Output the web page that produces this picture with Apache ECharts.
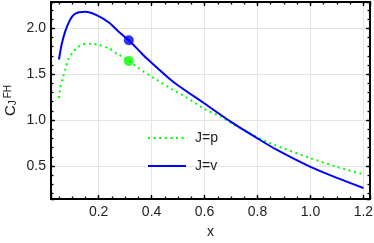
<!DOCTYPE html>
<html>
<head>
<meta charset="utf-8">
<script src="https://cdn.jsdelivr.net/npm/echarts@6/dist/echarts.min.js"></script>
<style>html,body{margin:0;padding:0;background:#fff}#c{width:374px;height:243px}</style>
</head>
<body>
<div id="c"></div>
<script>
// J=v curve
const xV = [0.05, 0.06, 0.073, 0.09, 0.105, 0.125, 0.15, 0.19, 0.24, 0.28, 0.314, 0.356, 0.38, 0.48, 0.6, 0.7, 0.8, 0.87, 1.0, 1.1, 1.2];
const yV = [1.66, 1.82, 1.96, 2.08, 2.145, 2.175, 2.18, 2.145, 2.06, 1.95, 1.869, 1.745, 1.675, 1.42, 1.18, 0.98, 0.80, 0.68, 0.49, 0.37, 0.26];
// J=p curve
const xP = [0.05, 0.055, 0.065, 0.075, 0.085, 0.1, 0.12, 0.14, 0.17, 0.2, 0.24, 0.27, 0.3, 0.35, 0.42, 0.48, 0.53, 0.6, 0.66, 0.7, 0.8, 0.85, 0.9, 1.0, 1.1, 1.2];
const yP = [1.24, 1.35, 1.46, 1.56, 1.66, 1.73, 1.79, 1.825, 1.83, 1.82, 1.78, 1.72, 1.675, 1.565, 1.437, 1.33, 1.25, 1.12, 1.04, 0.97, 0.81, 0.745, 0.69, 0.585, 0.49, 0.41];
// marked points
const markX = [0.314];
const markV = [1.869];
const markP = [1.644];
const seriesNames = ['J=p', 'J=v'];
const xTickValues = [0.2, 0.4, 0.6, 0.8, 1.0, 1.2];
const yTickValues = [0.5, 1.0, 1.5, 2.0];

const FONT = 'Liberation Sans, Arial, sans-serif';
const TXT = '#222';
const X_MIN = 0.02, X_MAX = 1.225, Y_MIN = 0.14, Y_MAX = 2.286;

function near(v, list) { return list.some(t => Math.abs(t - v) < 1e-6); }

function xAxisDef(pos, major, withLabels) {
  return {
    type: 'value', position: pos, min: X_MIN, max: X_MAX,
    minInterval: major ? 0.2 : 0.05, maxInterval: major ? 0.2 : 0.05, splitNumber: major ? 6 : 24,
    axisLine: { show: false, onZero: false },
    axisTick: { show: true, inside: true, length: major ? 4 : 2.5, lineStyle: { color: '#000', width: 1.3 } },
    axisLabel: withLabels ? {
      show: true, margin: 6, color: TXT, fontSize: 14, fontFamily: FONT,
      formatter: v => near(v, xTickValues) ? v.toFixed(1) : ''
    } : { show: false },
    splitLine: { show: withLabels, lineStyle: { color: '#e4e4e4', width: 1 } },
    name: withLabels ? 'x' : '', nameLocation: 'middle', nameGap: 26, nameMoveOverlap: false,
    nameTextStyle: { color: TXT, fontSize: 14, fontFamily: FONT }
  };
}
function yAxisDef(pos, major, withLabels) {
  return {
    type: 'value', position: pos, min: Y_MIN, max: Y_MAX,
    minInterval: major ? 0.5 : 0.1, maxInterval: major ? 0.5 : 0.1, splitNumber: major ? 4 : 20,
    axisLine: { show: false, onZero: false },
    axisTick: { show: true, inside: true, length: major ? 4 : 2.5, lineStyle: { color: '#000', width: 1.3 } },
    axisLabel: withLabels ? {
      show: true, margin: 5, color: TXT, fontSize: 14, fontFamily: FONT,
      formatter: v => near(v, yTickValues) ? v.toFixed(1) : ''
    } : { show: false },
    splitLine: { show: withLabels, lineStyle: { color: '#e4e4e4', width: 1 } },
    name: withLabels ? '{c|C}{s|J}{p|FH}' : '', nameLocation: 'middle', nameRotate: 90, nameGap: 33,
    nameMoveOverlap: false,
    nameTextStyle: {
      color: TXT, fontFamily: FONT,
      rich: {
        c: { fontSize: 15, lineHeight: 15, color: TXT, fontFamily: FONT },
        s: { fontSize: 10, lineHeight: 10, verticalAlign: 'bottom', color: TXT, fontFamily: FONT, padding: [0, 2, 0, 0] },
        p: { fontSize: 10, lineHeight: 10, verticalAlign: 'top', color: TXT, fontFamily: FONT }
      }
    }
  };
}

const chart = echarts.init(document.getElementById('c'), null, { renderer: 'canvas' });
chart.setOption({
  animation: false,
  backgroundColor: '#fff',
  grid: {
    left: 51, right: 4, top: 2, bottom: 44,
    containLabel: false, outerBoundsMode: 'none',
    show: true, borderColor: '#000', borderWidth: 2, backgroundColor: 'transparent', z: 3
  },
  legend: {
    data: seriesNames, orient: 'vertical', left: 142, top: 126,
    itemWidth: 38, itemHeight: 14, itemGap: 14,
    itemStyle: { opacity: 0 },
    textStyle: { color: TXT, fontSize: 14, fontFamily: FONT, padding: [0, 0, 0, 4] }
  },
  xAxis: [xAxisDef('bottom', true, true), xAxisDef('bottom', false, false), xAxisDef('top', true, false), xAxisDef('top', false, false)],
  yAxis: [yAxisDef('left', true, true), yAxisDef('left', false, false), yAxisDef('right', true, false), yAxisDef('right', false, false)],
  series: [
    {
      name: seriesNames[0], type: 'line', xAxisIndex: 0, yAxisIndex: 0,
      data: xP.map((x, i) => [x, yP[i]]), symbol: 'none', smooth: 0.25,
      lineStyle: { color: '#00ff00', width: 2, type: [2, 3.6] }, itemStyle: { color: '#00ff00' }
    },
    {
      name: seriesNames[1], type: 'line', xAxisIndex: 0, yAxisIndex: 0,
      data: xV.map((x, i) => [x, yV[i]]), symbol: 'none', smooth: 0.25,
      lineStyle: { color: '#0000ff', width: 2 }, itemStyle: { color: '#0000ff' }
    },
    {
      name: 'markP', type: 'scatter', xAxisIndex: 0, yAxisIndex: 0,
      data: markX.map((x, i) => [x, markP[i]]), symbolSize: 10, itemStyle: { color: '#00ff00' }
    },
    {
      name: 'markV', type: 'scatter', xAxisIndex: 0, yAxisIndex: 0,
      data: markX.map((x, i) => [x, markV[i]]), symbolSize: 10, itemStyle: { color: '#0000ff' }
    }
  ]
});
</script>
</body>
</html>
